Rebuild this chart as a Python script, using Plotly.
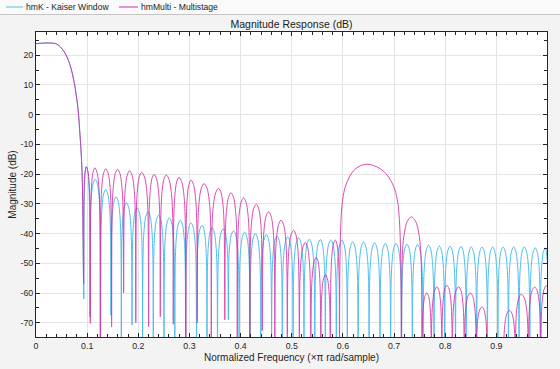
import plotly.graph_objects as go

# ---------------- data ----------------
# shared passband / transition (both designs overlap here)
PASS_F = [0.0, 0.0377, 0.0475, 0.0606, 0.0704, 0.0768, 0.0821, 0.0852, 0.0886, 0.0905]
PASS_DB = [23.9, 23.9, 22.8, 19.4, 14.3, 8.7, 1.9, -4.8, -13.9, -22.0]

# hmK - Kaiser Window : stopband nulls and sidelobe peaks
K_NULL_F = [0.0935, 0.1052, 0.1263, 0.1466, 0.1668, 0.1877, 0.2084, 0.2293, 0.2502, 0.2714,
            0.2925, 0.3138, 0.3343, 0.3548, 0.3760, 0.3971, 0.4184, 0.4395, 0.4606, 0.4815,
            0.5026, 0.5239, 0.5451, 0.5656, 0.5871, 0.6086, 0.6297, 0.6512, 0.6725, 0.6933,
            0.7146, 0.7357, 0.7568, 0.7781, 0.7988, 0.8201, 0.8409, 0.8614, 0.8825, 0.9030,
            0.9236, 0.9443, 0.9654, 0.9859]
K_NULL_DB = [-62.0, -68.0, -90.0, -67.5, -90.0, -70.8, -90.0, -90.0, -90.0, -90.0,
             -90.0, -90.0, -90.0, -90.0, -69.0, -90.0, -90.0, -90.0, -90.0, -90.0,
             -90.0, -90.0, -90.0, -90.0, -90.0, -90.0, -90.0, -90.0, -90.0, -90.0,
             -90.0, -90.0, -90.0, -90.0, -90.0, -90.0, -90.0, -90.0, -90.0, -90.0,
             -90.0, -90.0, -90.0, -90.0]
K_PEAK_F = [0.0983, 0.1159, 0.1361, 0.1564, 0.1765, 0.1975, 0.2190, 0.2397, 0.2606, 0.2821,
            0.3030, 0.3245, 0.3441, 0.3656, 0.3863, 0.4078, 0.4288, 0.4503, 0.4712, 0.4919,
            0.5134, 0.5343, 0.5558, 0.5763, 0.5982, 0.6190, 0.6405, 0.6620, 0.6829, 0.7038,
            0.7253, 0.7460, 0.7676, 0.7885, 0.8094, 0.8309, 0.8510, 0.8719, 0.8928, 0.9130,
            0.9337, 0.9546, 0.9761, 0.9957]
K_PEAK_DB = [-17.5, -21.8, -25.2, -27.6, -29.6, -31.3, -32.7, -33.8, -34.7, -35.5,
             -36.4, -37.2, -38.0, -38.5, -39.1, -39.5, -40.0, -40.3, -40.8, -41.1,
             -41.4, -41.9, -42.0, -42.2, -42.2, -42.8, -42.8, -43.1, -43.3, -43.3,
             -43.6, -43.7, -43.9, -44.2, -44.2, -44.3, -44.5, -44.5, -44.5, -44.5,
             -44.5, -44.5, -44.8, -44.8]
K_END = (1.0, -50.0)

# hmMulti - Multistage : stopband nulls and lobe peaks
M_NULL_F = [0.0931, 0.1062, 0.1257, 0.1478, 0.1713, 0.1951, 0.2201, 0.2430, 0.2684, 0.2929,
            0.3153, 0.3427, 0.3691, 0.3935, 0.4180, 0.4424, 0.4669, 0.4913, 0.5148, 0.5372,
            0.5568, 0.5754, 0.5935, 0.7142, 0.7546, 0.7728, 0.7934, 0.8139, 0.8373, 0.8608,
            0.8825, 0.9136, 0.9370, 0.9625, 0.9869]
M_NULL_DB = [-56.8, -70.2, -90.0, -71.4, -60.0, -70.0, -71.4, -68.0, -70.5, -90.0,
             -70.0, -90.0, -69.0, -90.0, -90.0, -72.6, -90.0, -90.0, -90.0, -90.0,
             -90.0, -90.0, -90.0, -90.0, -90.0, -90.0, -90.0, -90.0, -90.0, -90.0,
             -95.0, -95.0, -90.0, -90.0, -90.0]
M_PEAK_F = [0.0983, 0.1150, 0.1365, 0.1595, 0.1830, 0.2065, 0.2309, 0.2547, 0.2796, 0.3030,
            0.3286, 0.3570, 0.3812, 0.4059, 0.4307, 0.4547, 0.4790, 0.5036, 0.5265, 0.5480,
            0.5656, 0.5851, 0.6457, 0.7337, 0.7640, 0.7836, 0.8031, 0.8262, 0.8491, 0.8719,
            0.8979, 0.9253, 0.9488, 0.9748, 0.9977]
M_PEAK_DB = [-17.5, -17.9, -18.2, -18.4, -18.9, -19.4, -20.1, -20.3, -21.1, -22.0,
             -23.2, -24.8, -26.3, -28.0, -30.1, -32.7, -35.5, -38.9, -43.0, -48.0,
             -53.8, -42.2, -16.7, -34.4, -60.0, -57.9, -57.4, -57.9, -60.0, -64.7,
             -80.0, -65.8, -60.4, -58.0, -57.5]
M_END = (1.0, -58.0)

# typical sidelobe profile (fraction null->peak, dB below peak)
LOBE_U = [0.1, 0.3, 0.6]
LOBE_DROP = [13.0, 5.5, 1.5]

X_TICKS = [0, 0.1, 0.2, 0.3, 0.4, 0.5, 0.6, 0.7, 0.8, 0.9]
X_LABELS = ["0", "0.1", "0.2", "0.3", "0.4", "0.5", "0.6", "0.7", "0.8", "0.9"]
Y_TICKS = [-70, -60, -50, -40, -30, -20, -10, 0, 10, 20]
Y_LABELS = ["-70", "-60", "-50", "-40", "-30", "-20", "-10", "0", "10", "20"]

NAMES = ["hmK - Kaiser Window", "hmMulti - Multistage"]
COLORS = ["#4DBEEE", "#D62CA4"]


def build(null_f, null_db, peak_f, peak_db, end):
    xs, ys = list(PASS_F), list(PASS_DB)
    for i in range(len(peak_f)):
        nf, nd, pf, pd = null_f[i], null_db[i], peak_f[i], peak_db[i]
        s = min(1.0, (pd - nd) / 40.0)
        xs.append(nf); ys.append(nd)
        for u, d in zip(LOBE_U, LOBE_DROP):
            xs.append(nf + u * (pf - nf)); ys.append(pd - d * s)
        xs.append(pf); ys.append(pd)
        if i + 1 < len(null_f):
            nf2, nd2 = null_f[i + 1], null_db[i + 1]
            s2 = min(1.0, (pd - nd2) / 40.0)
            for u, d in reversed(list(zip(LOBE_U, LOBE_DROP))):
                xs.append(nf2 + u * (pf - nf2)); ys.append(pd - d * s2)
    xs.append(end[0]); ys.append(end[1])
    return xs, ys


kx, ky = build(K_NULL_F, K_NULL_DB, K_PEAK_F, K_PEAK_DB, K_END)
mx, my = build(M_NULL_F, M_NULL_DB, M_PEAK_F, M_PEAK_DB, M_END)

fig = go.Figure()
fig.add_trace(go.Scatter(x=kx, y=ky, mode="lines", name=NAMES[0],
                         line=dict(color=COLORS[0], width=1, shape="spline", smoothing=1.0)))
fig.add_trace(go.Scatter(x=mx, y=my, mode="lines", name=NAMES[1], opacity=0.85,
                         line=dict(color=COLORS[1], width=1, shape="spline", smoothing=1.0)))

AX = "#262626"
common = dict(showline=True, linecolor=AX, linewidth=1, mirror="ticks",
              ticks="inside", ticklen=4, tickcolor=AX, tickwidth=1,
              showgrid=True, gridcolor="#E4E4E4", gridwidth=1, zeroline=False,
              automargin=False, tickfont=dict(size=8.8, color=AX))

fig.update_layout(
    width=560, height=369,
    margin=dict(l=36, r=13, t=32, b=32, autoexpand=False),
    paper_bgcolor="#F3F3F3", plot_bgcolor="white",
    font=dict(family="Liberation Sans, Arial, sans-serif", size=10, color=AX),
    showlegend=False,
    title=dict(text="Magnitude Response (dB)", x=0.5, xref="paper", xanchor="center",
               y=1 - 24.5 / 369, yref="container", yanchor="middle",
               font=dict(size=10.5, color="#1A1A1A")),
    xaxis=dict(range=[0, 0.999], tickmode="array", tickvals=X_TICKS, ticktext=X_LABELS,
               minor=dict(dtick=0.02, tick0=0, ticks="inside", ticklen=3, tickcolor=AX, showgrid=False),
               title=dict(text="Normalized Frequency (\u00d7\u03c0 rad/sample)", font=dict(size=10), standoff=4),
               **common),
    yaxis=dict(range=[-74.8, 27.8], tickmode="array", tickvals=Y_TICKS, ticktext=Y_LABELS,
               minor=dict(dtick=5, tick0=0, ticks="inside", ticklen=3, tickcolor=AX, showgrid=False),
               title=dict(text="Magnitude (dB)", font=dict(size=10), standoff=2),
               **common),
)

# legend band drawn at the top of the figure
PL, PR, PT, PB = 36, 547, 32, 337
def px_x(p):
    return (p - PL) / (PR - PL)
def px_y(p):
    return (PB - p) / (PB - PT)

fig.add_shape(type="rect", xref="paper", yref="paper", x0=px_x(0), x1=px_x(560),
              y0=px_y(14.5), y1=px_y(0), fillcolor="#FAFAFA", line=dict(width=0), layer="below")
fig.add_shape(type="line", xref="paper", yref="paper", x0=px_x(0), x1=px_x(560),
              y0=px_y(14.5), y1=px_y(14.5), line=dict(color="#C4C4C4", width=1))
LEG_LINE = [(6, 23), (119, 138)]
LEG_TEXT = [24, 139]
for i in range(2):
    fig.add_shape(type="line", xref="paper", yref="paper", x0=px_x(LEG_LINE[i][0]), x1=px_x(LEG_LINE[i][1]),
                  y0=px_y(7), y1=px_y(7), line=dict(color=COLORS[i], width=1))
    fig.add_annotation(xref="paper", yref="paper", x=px_x(LEG_TEXT[i]), y=px_y(7), text=NAMES[i],
                       showarrow=False, xanchor="left", yanchor="middle",
                       font=dict(size=8.6, color="#1A1A1A"))

fig.write_html("out.html", config={"displayModeBar": False},
               post_script="document.body.style.margin='0';document.body.style.background='#F3F3F3';")
